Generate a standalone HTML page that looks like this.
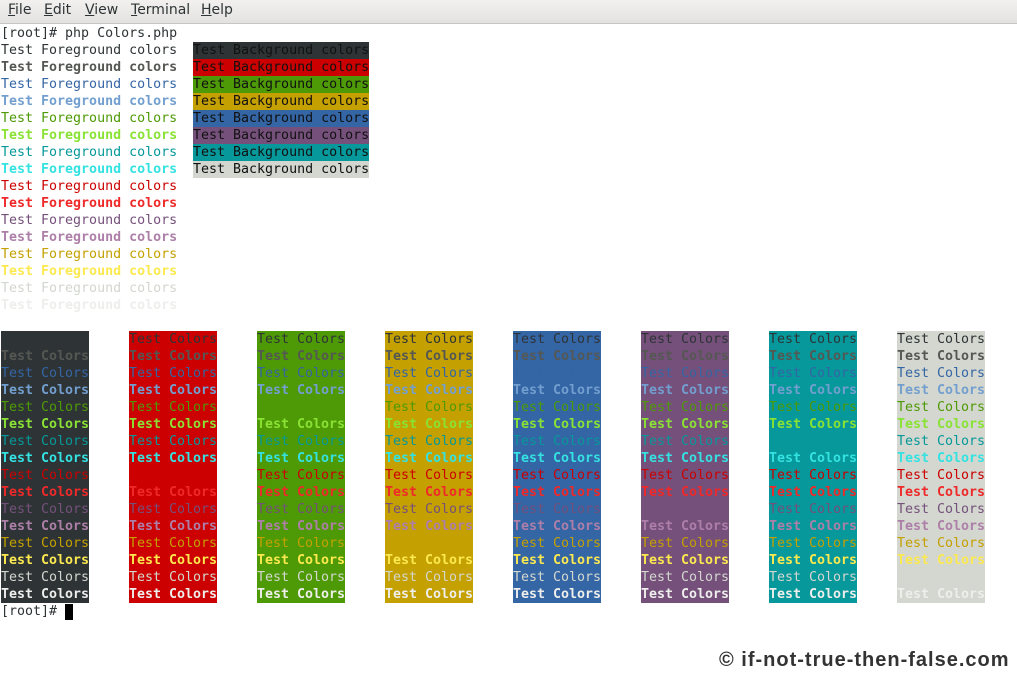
<!DOCTYPE html>
<html><head><meta charset="utf-8">
<style>
body{margin:0;width:1017px;height:677px;background:#fff;position:relative;overflow:hidden;font-family:"DejaVu Sans Mono","Liberation Mono",monospace;}
#menubar{position:absolute;left:0;top:0;width:1017px;height:23px;background:linear-gradient(#f2f1f0,#e4e2e0);border-bottom:1px solid #c8c5c2;font-family:"DejaVu Sans","Liberation Sans",sans-serif;font-size:14px;color:#2e3436;}
#menubar span{position:absolute;top:2px;}
#menubar u{text-decoration:underline;}
.seg{position:absolute;height:17px;line-height:18px;font-size:13.3px;white-space:pre;overflow:hidden;color:#2e3436;}
.b{font-weight:bold;}
#wm{position:absolute;left:719px;top:649px;font-family:"Liberation Sans",sans-serif;font-weight:bold;font-size:20px;letter-spacing:1px;color:#333;white-space:nowrap;}
#cursor{position:absolute;left:65px;top:604px;width:8px;height:16px;background:#000;}
</style></head><body>
<div id="menubar">
<span style="left:8px"><u>F</u>ile</span>
<span style="left:44px"><u>E</u>dit</span>
<span style="left:85px"><u>V</u>iew</span>
<span style="left:131px"><u>T</u>erminal</span>
<span style="left:201px"><u>H</u>elp</span>
</div>
<div id="term"></div>
<div id="cursor"></div>
<div id="wm">© if-not-true-then-false.com</div>
<script>
const fgColors=["#2e3436","#555753","#3465a4","#729fcf","#4e9a06","#8ae234","#06989a","#34e2e2","#cc0000","#ef2929","#75507b","#ad7fa8","#c4a000","#fce94f","#d3d7cf","#eeeeec"];
const bgColors=["#2e3436","#cc0000","#4e9a06","#c4a000","#3465a4","#75507b","#06989a","#d3d7cf"];
const term=document.getElementById('term');
function seg(row,col,text,fg,bg,bold,name){
  const s=document.createElement('div');
  s.className='seg'+(bold?' b':'');
  s.style.top=(25+row*17)+'px';
  s.style.left=(1+col*8)+'px';
  s.style.width=(text.length*8)+'px';
  s.style.color=fg;
  if(bg)s.style.background=bg;
  s.textContent=text;
  
  
  term.appendChild(s);
}
seg(0,0,"[root]# php Colors.php","#2e3436",null,false,'command-line');
fgColors.forEach((c,i)=>seg(1+i,0,"Test Foreground colors",c,null,i%2==1,'foreground-line'));
bgColors.forEach((c,i)=>seg(1+i,24,"Test Background colors","#111",c,false,'background-line'));
bgColors.forEach((bg,j)=>{
  fgColors.forEach((fg,i)=>seg(18+i,j*16,"Test Colors",fg,bg,i%2==1,'grid-cell'));
});
seg(34,0,"[root]#","#2e3436",null,false,'prompt');
</script>
</body></html>
